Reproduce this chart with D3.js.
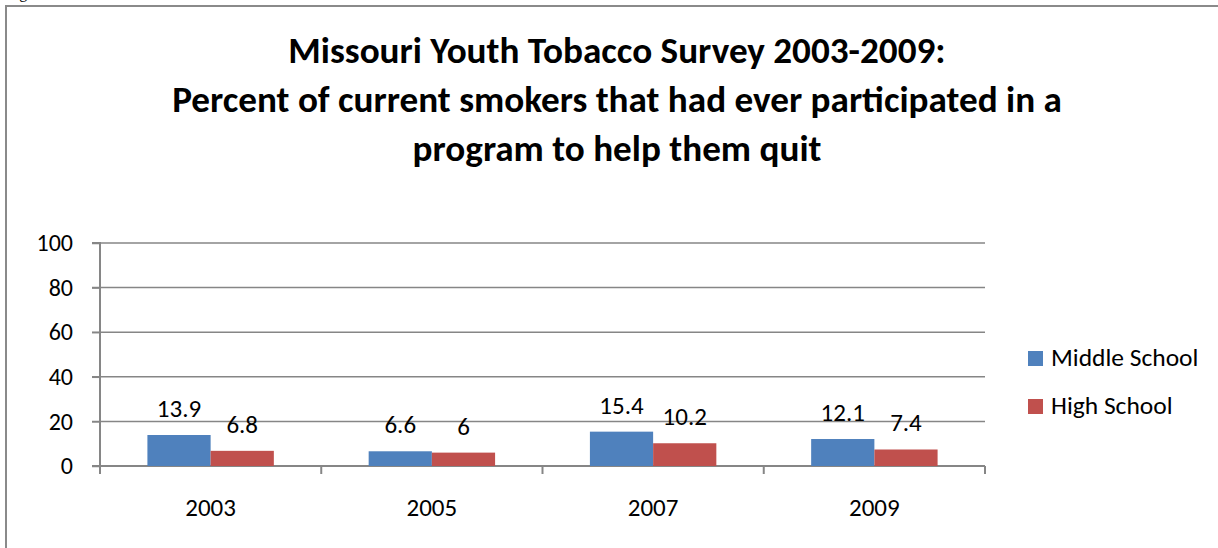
<!DOCTYPE html>
<html>
<head>
<meta charset="utf-8">
<script src="https://cdn.jsdelivr.net/npm/d3@7"></script>
<style>
  html, body { margin: 0; padding: 0; background: #fff; overflow: hidden; }
  svg { display: block; font-family: Carlito, Calibri, Lato, sans-serif; }
</style>
</head>
<body>
<div id="chart"></div>
<script>
// Chart data
const years = ['2003', '2005', '2007', '2009'];
const seriesNames = ['Middle School', 'High School'];
const middleSchool = [13.9, 6.6, 15.4, 12.1];
const highSchool = [6.8, 6, 10.2, 7.4];
const yTicks = [0, 20, 40, 60, 80, 100];
const titleLines = [
    'Missouri Youth Tobacco Survey 2003-2009:',
    'Percent of current smokers that had ever participated in a',
    'program to help them quit'
];
const colors = ['#4F81BD', '#C0504D'];

const W = 1218, H = 548;
const plot = { left: 100, right: 985, top: 243, bottom: 466 };
const fontStack = 'Carlito, Calibri, Lato, sans-serif';

const svg = d3.select('#chart').append('svg')
    .attr('width', W).attr('height', H);

// cut-off caption above the frame
svg.append('text')
    .attr('x', 6).attr('y', -2)
    .attr('font-family', 'Liberation Serif, serif')
    .attr('font-size', 16)
    .text('Figure');

// outer frame (right/bottom run off the page)
svg.append('rect')
    .attr('x', 6).attr('y', 6)
    .attr('width', W + 20).attr('height', H + 20)
    .attr('fill', 'none')
    .attr('stroke', '#8a8a8a')
    .attr('stroke-width', 2);

// Title, sized to match the reference line width
const title = svg.append('text')
    .attr('text-anchor', 'middle')
    .attr('font-weight', 'bold')
    .attr('fill', '#000')
    .attr('font-size', 36);
title.selectAll('tspan')
    .data(titleLines)
    .join('tspan')
    .attr('x', 617)
    .attr('y', (d, i) => 63 + i * 49)
    .text(d => d);
const measured = title.select('tspan:nth-child(2)').node().getComputedTextLength();
title.attr('font-size', 36 * 890 / measured);

const x0 = d3.scaleBand().domain(years).range([plot.left, plot.right]);
const bw = x0.bandwidth() / 3.5;
const x1 = d3.scaleBand().domain(seriesNames)
    .range([bw * 0.75, bw * 2.75]);
const y = d3.scaleLinear().domain([0, 100]).range([plot.bottom, plot.top]);

// gridlines
svg.append('g')
    .selectAll('line')
    .data(yTicks.filter(t => t > 0))
    .join('line')
    .attr('x1', plot.left - 8).attr('x2', plot.right)
    .attr('y1', d => y(d)).attr('y2', d => y(d))
    .attr('stroke', '#868686')
    .attr('stroke-width', 1.5);

// y axis
const yAxis = svg.append('g')
    .attr('transform', `translate(${plot.left},0)`)
    .call(d3.axisLeft(y).tickValues(yTicks).tickSize(8).tickPadding(19));
yAxis.select('.domain').attr('stroke', '#868686').attr('stroke-width', 2)
    .attr('d', `M-8,${plot.top}H0V${plot.bottom + 8}`);
yAxis.selectAll('.tick line').attr('stroke', '#868686').attr('stroke-width', 1.5);
yAxis.selectAll('.tick text')
    .attr('font-size', 24).attr('fill', '#000')
    .attr('font-family', fontStack);

// x axis
const xAxis = svg.append('g')
    .attr('transform', `translate(0,${plot.bottom})`)
    .call(d3.axisBottom(x0).tickSize(0).tickPadding(32));
xAxis.select('.domain').attr('stroke', '#868686').attr('stroke-width', 2)
    .attr('d', `M${plot.left - 8},0H${plot.right}`);
xAxis.selectAll('.tick text')
    .attr('font-size', 25).attr('fill', '#000')
    .attr('font-family', fontStack);
xAxis.selectAll('.sep')
    .data(years.map(d => x0(d)).concat([plot.right]))
    .join('line')
    .attr('class', 'sep')
    .attr('x1', d => d).attr('x2', d => d)
    .attr('y1', 0).attr('y2', 8)
    .attr('stroke', '#868686').attr('stroke-width', 2);

// bars
const rows = years.map((yr, i) => ({ year: yr, values: [middleSchool[i], highSchool[i]] }));
const groups = svg.append('g')
    .selectAll('g')
    .data(rows)
    .join('g')
    .attr('transform', d => `translate(${x0(d.year)},0)`);

groups.selectAll('rect')
    .data(d => d.values.map((v, k) => ({ name: seriesNames[k], value: v, k })))
    .join('rect')
    .attr('x', d => x1(d.name))
    .attr('width', x1.bandwidth())
    .attr('y', d => y(d.value))
    .attr('height', d => y(0) - y(d.value))
    .attr('fill', d => colors[d.k]);

groups.selectAll('text')
    .data(d => d.values.map((v, k) => ({ name: seriesNames[k], value: v })))
    .join('text')
    .attr('x', d => x1(d.name) + x1.bandwidth() / 2)
    .attr('y', d => y(d.value) - 18)
    .attr('text-anchor', 'middle')
    .attr('font-size', 25)
    .attr('fill', '#000')
    .text(d => d.value);

// legend
const legend = svg.append('g')
    .selectAll('g')
    .data(seriesNames)
    .join('g')
    .attr('transform', (d, i) => `translate(1028,${351 + i * 48})`);
legend.append('rect')
    .attr('width', 15).attr('height', 15)
    .attr('fill', (d, i) => colors[i]);
legend.append('text')
    .attr('x', 23).attr('y', 15)
    .attr('font-size', 25.5)
    .attr('fill', '#000')
    .text(d => d);
</script>
</body>
</html>
